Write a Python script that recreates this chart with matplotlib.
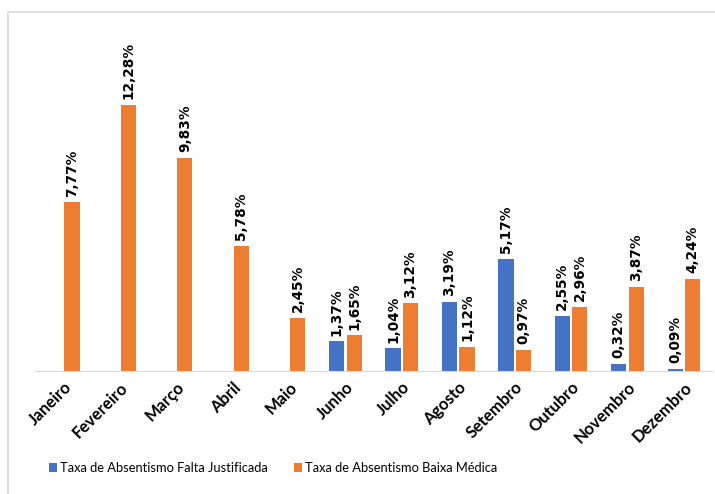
import matplotlib
matplotlib.use("Agg")
import matplotlib.pyplot as plt
from matplotlib.patches import Rectangle
import numpy as np

# dados
meses = ["Janeiro", "Fevereiro", "Março", "Abril", "Maio", "Junho", "Julho",
         "Agosto", "Setembro", "Outubro", "Novembro", "Dezembro"]
falta_justificada = [None, None, None, None, None, 1.37, 1.04, 3.19, 5.17, 2.55, 0.32, 0.09]
baixa_medica = [7.77, 12.28, 9.83, 5.78, 2.45, 1.65, 3.12, 1.12, 0.97, 2.96, 3.87, 4.24]
nomes = ["Taxa de Absentismo Falta Justificada", "Taxa de Absentismo Baixa Médica"]

azul = "#4472c4"
laranja = "#ed7d31"

fig = plt.figure(figsize=(7.15, 4.94), dpi=100)
ax = fig.add_axes([0.049, 0.249, 0.947, 0.615])

# moldura do gráfico
fig.patches.append(Rectangle((8 / 715, -0.1), 1.1, 1 - 12 / 494 + 0.1,
                             transform=fig.transFigure, fill=False,
                             edgecolor="#d9d9d9", linewidth=1.2))

x = np.arange(len(meses))
w = 0.27
fj = [v if v is not None else 0 for v in falta_justificada]
b1 = ax.bar(x - w / 2 - 0.02, fj, w, color=azul, label=nomes[0])
b2 = ax.bar(x + w / 2 + 0.02, baixa_medica, w, color=laranja, label=nomes[1])

def fmt(v):
    return ("%.2f" % v).replace(".", ",") + "%"

for i, v in enumerate(falta_justificada):
    if v is None:
        continue
    ax.annotate(fmt(v), (x[i] - w / 2 - 0.02, v), xytext=(0, 4), textcoords="offset points",
                rotation=90, ha="center", va="bottom", fontsize=9.8, fontweight="bold",
                family="DejaVu Sans", annotation_clip=False)
for i, v in enumerate(baixa_medica):
    ax.annotate(fmt(v), (x[i] + w / 2 + 0.02, v), xytext=(0, 4), textcoords="offset points",
                rotation=90, ha="center", va="bottom", fontsize=9.8, fontweight="bold",
                family="DejaVu Sans", annotation_clip=False)

ax.set_xlim(-0.5, len(meses) - 0.5)
ax.set_ylim(0, 14)
ax.set_yticks([])
ax.set_xticks(x)
ax.set_xticklabels(meses, rotation=45, ha="right", rotation_mode="anchor",
                   fontsize=12, fontweight="bold", family="Lato")
ax.tick_params(axis="x", length=0, pad=6)
for s in ["top", "right", "left"]:
    ax.spines[s].set_visible(False)
ax.spines["bottom"].set_color("#d9d9d9")

leg = fig.legend(handles=[b1, b2], loc="center", bbox_to_anchor=(0.382, 1 - 468 / 494),
                 ncol=2, frameon=False, handlelength=0.65, handleheight=0.65,
                 handletextpad=0.25, columnspacing=2.0,
                 prop={"family": "Lato", "size": 9.3})

fig.savefig("out.png", dpi=100)
